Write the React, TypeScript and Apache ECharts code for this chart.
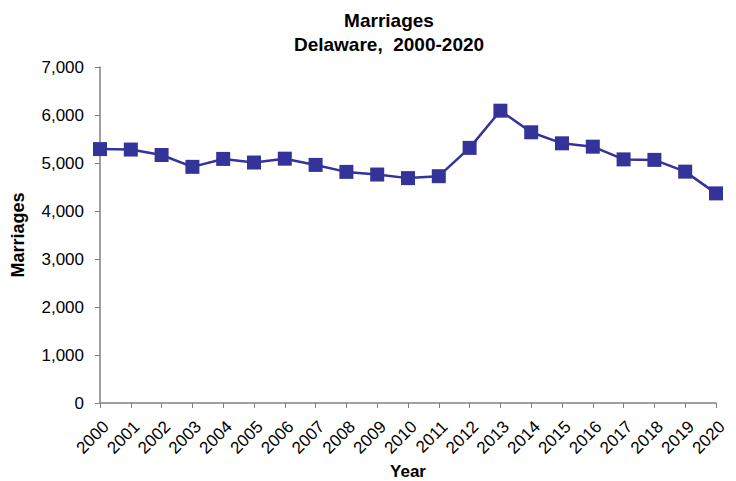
import React, { useEffect, useRef } from "react";
import * as echarts from "echarts";

const years = ["2000","2001","2002","2003","2004","2005","2006","2007","2008","2009","2010","2011","2012","2013","2014","2015","2016","2017","2018","2019","2020"];
const marriages = [5290, 5280, 5167, 4920, 5085, 5010, 5090, 4960, 4815, 4760, 4685, 4725, 5315, 6090, 5640, 5410, 5340, 5075, 5065, 4820, 4367];
const yTicks = { min: 0, max: 7000, interval: 1000 };

const FONT = "'Liberation Sans', Arial, sans-serif";

export default function App() {
  const ref = useRef<HTMLDivElement>(null);
  useEffect(() => {
    const chart = echarts.init(ref.current!, null, { renderer: "svg" });
    chart.setOption({
      animation: false,
      backgroundColor: "#ffffff",
      title: {
        text: "Marriages\nDelaware,  2000-2020",
        left: 384,
        top: 3,
        textAlign: "center",
        textStyle: { fontFamily: FONT, fontSize: 19, fontWeight: "bold", color: "#000", lineHeight: 24 },
      },
      grid: { left: 100, right: 20, top: 67, bottom: 78, containLabel: false, outerBoundsMode: "none" },
      xAxis: {
        type: "category",
        data: years,
        boundaryGap: false,
        name: "Year",
        nameLocation: "middle",
        nameGap: 60,
        nameMoveOverlap: false,
        nameTextStyle: { fontFamily: FONT, fontSize: 17, fontWeight: "bold", color: "#000" },
        axisLine: { lineStyle: { color: "#808080", width: 1.5 } },
        axisTick: { show: true, length: 5, alignWithLabel: true, lineStyle: { color: "#808080" } },
        axisLabel: {
          rotate: 45, fontFamily: FONT, fontSize: 17, color: "#000", margin: 15, interval: 0,
          align: "right", verticalAlign: "top",
        },
        splitLine: { show: false },
      },
      yAxis: {
        type: "value",
        min: yTicks.min,
        max: yTicks.max,
        interval: yTicks.interval,
        name: "Marriages",
        nameLocation: "middle",
        nameGap: 73,
        nameMoveOverlap: false,
        nameTextStyle: { fontFamily: FONT, fontSize: 18, fontWeight: "bold", color: "#000" },
        axisLine: { show: true, lineStyle: { color: "#808080", width: 1.5 } },
        axisTick: { show: true, length: 5, lineStyle: { color: "#808080" } },
        axisLabel: {
          fontFamily: FONT, fontSize: 17, color: "#000", margin: 16,
          formatter: (v: number) => v.toLocaleString("en-US"),
        },
        splitLine: { show: false },
      },
      series: [
        {
          type: "line",
          data: marriages,
          symbol: "rect",
          symbolSize: 14,
          lineStyle: { color: "#333399", width: 2.5 },
          itemStyle: { color: "#333399" },
        },
      ],
    });
    return () => chart.dispose();
  }, []);
  return <div ref={ref} style={{ width: 736, height: 481, position: "absolute", left: 0, top: 0 }} />;
}
